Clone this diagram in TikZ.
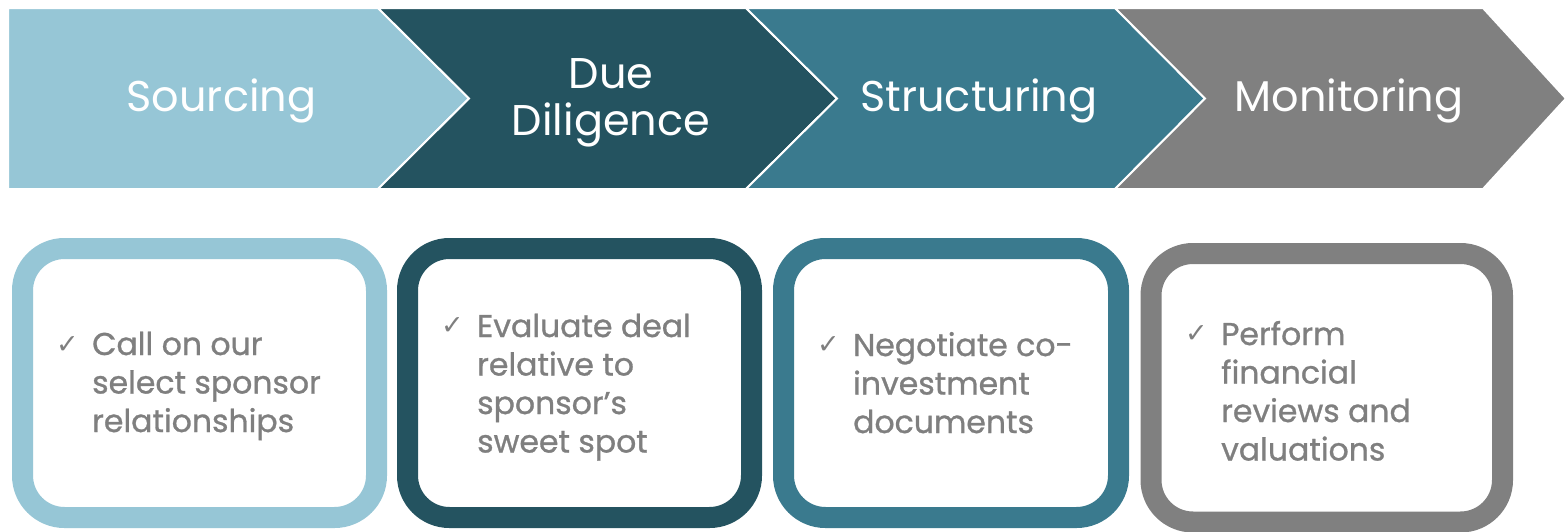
\documentclass[tikz,border=0pt]{standalone}
\usepackage{fontspec}
\setmainfont{Poppins}
\newfontfamily\itemfont{Poppins}[FakeBold=0.9]
\newfontfamily\symfont{DejaVu Sans}
\definecolor{stepA}{RGB}{150,198,214}
\definecolor{stepB}{RGB}{36,83,96}
\definecolor{stepC}{RGB}{58,122,142}
\definecolor{stepD}{RGB}{128,128,128}
\definecolor{bodygray}{RGB}{127,127,127}
\tikzset{
  chevron/.style={draw=white, line width=2, line join=miter},
  headtext/.style={text=white, inner sep=0, anchor=base,
    font=\fontsize{43}{47}\selectfont},
  cardbox/.style={rectangle, rounded corners=42, line width=21, fill=white,
    inner sep=0, minimum width=#1},
  itemtext/.style={text=bodygray, inner sep=0, anchor=base west,
    font=\itemfont\fontsize{31.5}{38.5}\selectfont},
  tick/.style={text=bodygray, inner sep=0, anchor=base west,
    font=\symfont\fontsize{27}{27}\selectfont},
}
\begin{document}
\begin{tikzpicture}[x=1pt, y=-1pt]
\useasboundingbox (0,0) rectangle (1566,531);

% process chevrons
\fill[white] (0,0) rectangle (1566,531);
\draw[chevron, fill=stepA] (8,8) -- (378,8) -- (469,98.5) -- (378,189) -- (8,189) -- cycle;
\draw[chevron, fill=stepB] (378,8) -- (746,8) -- (837,98.5) -- (746,189) -- (378,189) -- (469,98.5) -- cycle;
\draw[chevron, fill=stepC] (746,8) -- (1115,8) -- (1205,98.5) -- (1115,189) -- (746,189) -- (837,98.5) -- cycle;
\draw[chevron, fill=stepD] (1115,8) -- (1483,8) -- (1566,98.5) -- (1483,189) -- (1115,189) -- (1205,98.5) -- cycle;

% stage titles
\node[headtext] (h1) at (221.5,111.5) {Sourcing};
\node[headtext] (h2) at (611,88) {\begin{tabular}[t]{@{}c@{}}Due\\Diligence\end{tabular}};
\node[headtext] (h3) at (979,111.5) {Structuring};
\node[headtext] (h4) at (1349,111.5) {Monitoring};

% detail cards
\node[cardbox=354, minimum height=269, draw=stepA] (c1) at (199.5,383) {};
\node[cardbox=344, minimum height=269, draw=stepB] (c2) at (579.5,383) {};
\node[cardbox=335, minimum height=269, draw=stepC] (c3) at (951,383) {};
\node[cardbox=351.5, minimum height=268.5, draw=stepD] (c4) at (1326.75,387.75) {};

% card contents
\node[tick] (k1) at (56,353) {✓};
\node[itemtext] (t1) at (92,355) {\begin{tabular}[t]{@{}l@{}}Call on our\\select sponsor\\relationships\end{tabular}};

\node[tick] (k2) at (441,334) {✓};
\node[itemtext] (t2) at (477,337) {\begin{tabular}[t]{@{}l@{}}Evaluate deal\\relative to\\sponsor’s\\sweet spot\end{tabular}};

\node[tick] (k3) at (817,353) {✓};
\node[itemtext] (t3) at (853,356) {\begin{tabular}[t]{@{}l@{}}Negotiate co-\\investment\\documents\end{tabular}};

\node[tick] (k4) at (1185,342) {✓};
\node[itemtext] (t4) at (1221,345) {\begin{tabular}[t]{@{}l@{}}Perform\\financial\\reviews and\\valuations\end{tabular}};
\end{tikzpicture}
\end{document}
